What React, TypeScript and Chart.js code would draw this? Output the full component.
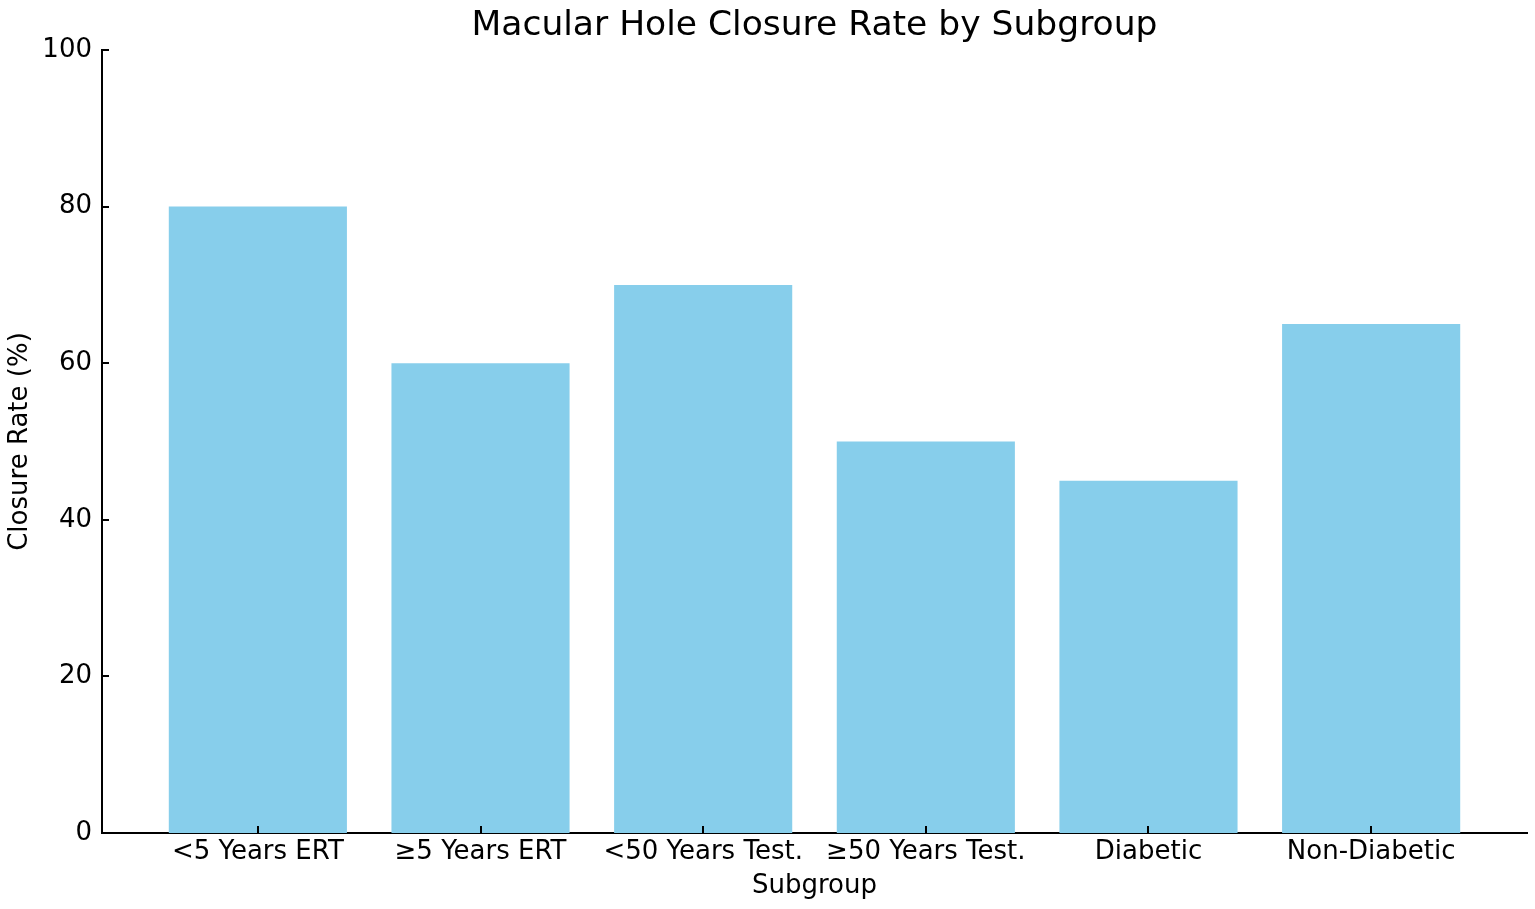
import React, { useEffect, useRef } from "react";
import { Chart, registerables } from "chart.js";

Chart.register(...registerables);

const categories = [
  "<5 Years ERT",
  "≥5 Years ERT",
  "<50 Years Test.",
  "≥50 Years Test.",
  "Diabetic",
  "Non-Diabetic",
];
const closureRates = [80, 60, 70, 50, 45, 65];
const yTicks = [0, 20, 40, 60, 80, 100];

const FONT = "'DejaVu Sans', sans-serif";

const inwardTicks = {
  id: "inwardTicks",
  afterDatasetsDraw(chart: any) {
    const ctx = chart.ctx;
    const x = chart.scales.x;
    const y = chart.scales.y;
    const area = chart.chartArea;
    ctx.save();
    ctx.strokeStyle = "#000";
    ctx.lineWidth = 2;
    ctx.beginPath();
    y.ticks.forEach((t: any) => {
      const py = Math.round(y.getPixelForValue(t.value));
      ctx.moveTo(area.left, py);
      ctx.lineTo(area.left + 7, py);
    });
    x.ticks.forEach((t: any) => {
      const px = Math.round(x.getPixelForValue(t.value));
      ctx.moveTo(px, area.bottom);
      ctx.lineTo(px, area.bottom - 7);
    });
    ctx.stroke();
    ctx.restore();
  },
};

export default function App() {
  const ref = useRef<HTMLCanvasElement>(null);
  useEffect(() => {
    if (!ref.current) return;
    const chart = new Chart(ref.current, {
      type: "bar",
      data: {
        datasets: [
          {
            data: closureRates.map((v, i) => ({ x: i, y: v })),
            backgroundColor: "#87CEEB",
            borderWidth: 0,
            categoryPercentage: 1,
            barPercentage: 0.8,
          },
        ],
      },
      options: {
        animation: false,
        responsive: true,
        maintainAspectRatio: false,
        layout: { padding: { left: 0, right: 8, top: 0, bottom: 0 } },
        plugins: {
          legend: { display: false },
          tooltip: { enabled: false },
          title: {
            display: true,
            fullSize: false,
            text: "Macular Hole Closure Rate by Subgroup",
            color: "#000",
            font: { family: FONT, size: 34.5, weight: "normal", lineHeight: 1.2 },
            padding: { top: 5, bottom: 3.6 },
          },
        },
        scales: {
          x: {
            type: "linear",
            min: -0.7,
            max: 5.7,
            offset: false,
            afterBuildTicks: (scale: any) => {
              scale.ticks = categories.map((_, i) => ({ value: i }));
            },
            afterFit: (scale: any) => {
              scale.height = 76;
            },
            grid: { display: false, drawTicks: false, offset: false },
            border: { display: true, color: "#000", width: 2 },
            ticks: {
              color: "#000",
              font: { family: FONT, size: 26 },
              padding: 4,
              autoSkip: false,
              maxRotation: 0,
              callback: (v: any) => categories[v] ?? "",
            },
            title: {
              display: true,
              text: "Subgroup",
              color: "#000",
              font: { family: FONT, size: 26 },
              padding: { top: 0, bottom: 7 },
            },
          },
          y: {
            min: 0,
            max: 100,
            afterBuildTicks: (scale: any) => {
              scale.ticks = yTicks.map((v) => ({ value: v }));
            },
            afterFit: (scale: any) => {
              scale.width = 102;
            },
            grid: { display: false, drawTicks: false },
            border: { display: true, color: "#000", width: 2 },
            ticks: {
              color: "#000",
              font: { family: FONT, size: 26 },
              padding: 10,
            },
            title: {
              display: true,
              text: "Closure Rate (%)",
              color: "#000",
              font: { family: FONT, size: 26 },
              padding: { top: 4.5, bottom: 0 },
            },
          },
        },
      },
      plugins: [inwardTicks],
    });
    return () => chart.destroy();
  }, []);
  return (
    <div style={{ position: "fixed", left: 0, top: 0, width: 1535, height: 909, background: "#fff" }}>
      <canvas ref={ref} />
    </div>
  );
}
